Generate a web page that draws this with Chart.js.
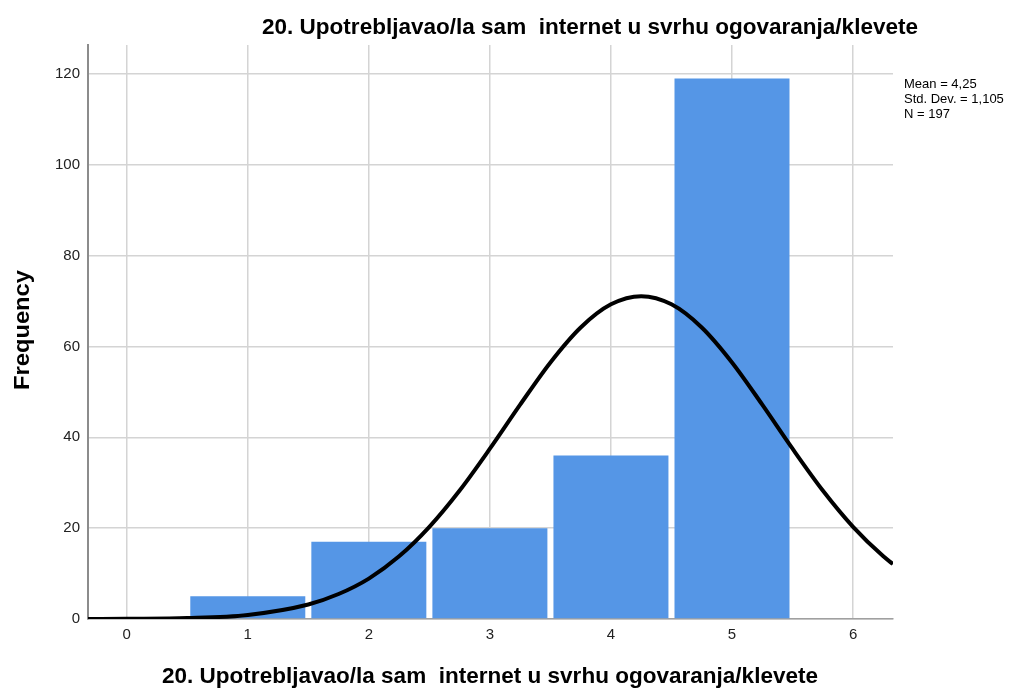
<!DOCTYPE html>
<html>
<head>
<meta charset="utf-8">
<script src="https://cdn.jsdelivr.net/npm/chart.js@4/dist/chart.umd.min.js"></script>
<style>
  html, body { margin: 0; padding: 0; background: #fff; }
  #wrap { width: 1026px; height: 689px; }
</style>
</head>
<body>
<div id="wrap"><canvas id="histo"></canvas></div>
<script>
const title = "20. Upotrebljavao/la sam  internet u svrhu ogovaranja/klevete"
const yTitle = "Frequency"
const statLines = ["Mean = 4,25", "Std. Dev. = 1,105", "N = 197"]

// histogram bins and counts
const binCenters = [1, 2, 3, 4, 5]
const counts = [5, 17, 20, 36, 119]

// normal curve
const curveX = [-0.32, 0, 0.5, 1, 1.5, 1.75, 2, 2.25, 2.5, 2.75, 3, 3.25, 3.5, 3.75, 4, 4.25, 4.5, 4.75, 5, 5.25, 5.5, 5.75, 6, 6.25, 6.33]
const curveY = [0, 0.05, 0.2, 0.9, 3.2, 5.5, 8.9, 13.8, 20.3, 28.3, 37.5, 47.2, 56.5, 64.2, 69.3, 71.1, 69.3, 64.2, 56.5, 47.2, 37.5, 28.3, 20.3, 13.8, 12.1]

const xTicks = [0, 1, 2, 3, 4, 5, 6]
const yTicks = [0, 20, 40, 60, 80, 100, 120]

const fontName = "'Liberation Sans', Arial, sans-serif"

// draws text squeezed to a given width, like the SPSS export
const squeezed = (ctx, text, x, y, width, angle) => {
    ctx.save()
    ctx.font = "bold 22px " + fontName
    ctx.fillStyle = '#000'
    ctx.textAlign = 'center'
    ctx.textBaseline = 'middle'
    const w = ctx.measureText(text).width
    ctx.translate(x, y)
    if (angle) ctx.rotate(angle)
    ctx.scale(width / w, 1)
    ctx.fillText(text, 0, 0)
    ctx.restore()
}

const textPlugin = {
    id: 'texts',
    afterDraw(c) {
        const ctx = c.ctx
        squeezed(ctx, title, 590, 28, 656)
        squeezed(ctx, title, 490, 677, 656)
        squeezed(ctx, yTitle, 23, 330, 120, -Math.PI / 2)

        ctx.save()
        ctx.fillStyle = '#000'
        ctx.font = "13px " + fontName
        ctx.textAlign = 'left'
        ctx.textBaseline = 'middle'
        statLines.forEach((s, i) => ctx.fillText(s, 904, 84 + i * 15))
        ctx.restore()
    }
}

new Chart(document.getElementById('histo'), {
    data: {
        datasets: [{
            type: 'line',
            data: curveX.map((x, i) => ({ x: x, y: curveY[i] })),
            borderColor: '#000',
            borderWidth: 4,
            pointRadius: 0,
            fill: false,
            cubicInterpolationMode: 'monotone',
            order: 0,
        }, {
            type: 'bar',
            data: binCenters.map((x, i) => ({ x: x, y: counts[i] })),
            backgroundColor: '#5596E6',
            borderWidth: 0,
            barPercentage: 0.95,
            categoryPercentage: 1,
            order: 1,
        }]
    },
    options: {
        responsive: true,
        maintainAspectRatio: false,
        animation: false,
        layout: {
            padding: { left: 0, top: 45, right: 133, bottom: 0 }
        },
        scales: {
            x: {
                type: 'linear',
                offset: false,
                min: -0.32,
                max: 6.33,
                afterBuildTicks: (s) => { s.ticks = xTicks.map(v => ({ value: v })) },
                afterFit: (s) => { s.height = 70 },
                grid: { color: '#d4d4d4', lineWidth: 1.5, drawTicks: false, offset: false },
                border: { color: '#a0a0a0', width: 1.5 },
                ticks: { color: '#222', font: { family: fontName, size: 15 }, padding: 7 },
            },
            y: {
                min: 0,
                max: 126.4,
                afterBuildTicks: (s) => { s.ticks = yTicks.map(v => ({ value: v })) },
                afterFit: (s) => { s.width = 88 },
                grid: { color: '#d4d4d4', lineWidth: 1.5, drawTicks: false },
                border: { color: '#8c8c8c', width: 2 },
                ticks: { color: '#222', font: { family: fontName, size: 15 }, padding: 8 },
            }
        },
        plugins: {
            legend: { display: false },
            tooltip: { enabled: false },
        }
    },
    plugins: [textPlugin]
})
</script>
</body>
</html>
